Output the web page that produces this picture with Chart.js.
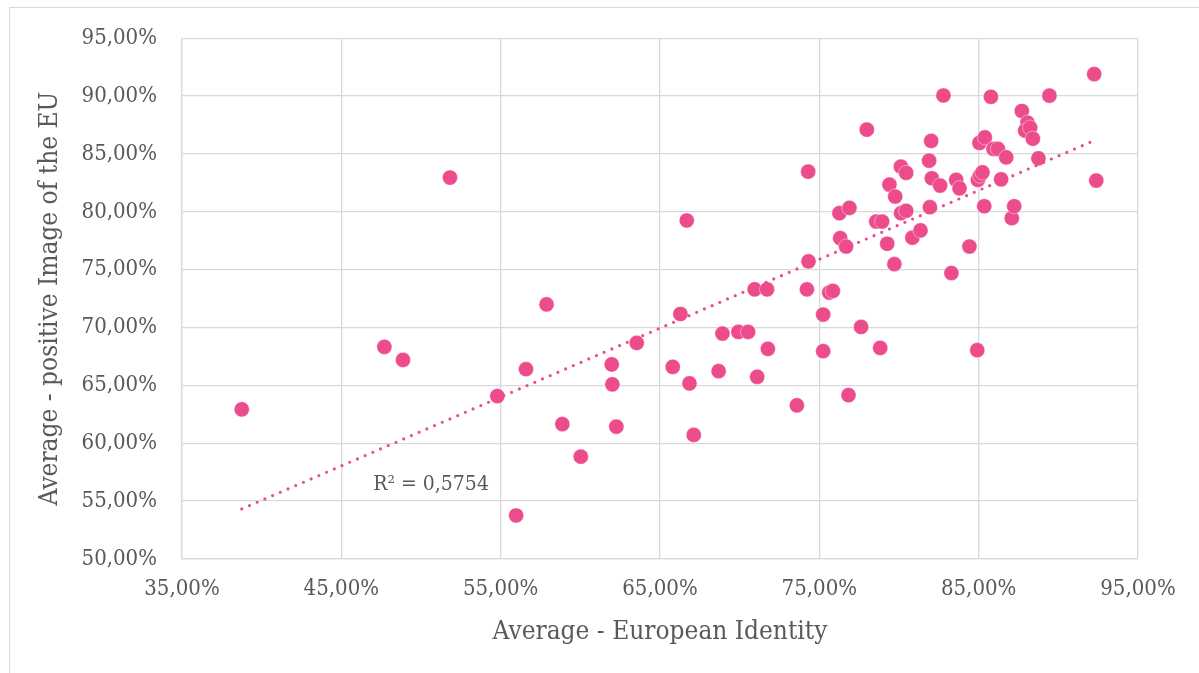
<!DOCTYPE html>
<html>
<head>
<meta charset="utf-8">
<script src="https://cdn.jsdelivr.net/npm/chart.js@4.4.0/dist/chart.umd.min.js"></script>
<style>
  html, body { margin: 0; padding: 0; background: #fff; }
  #wrap { position: relative; width: 1199px; height: 673px; overflow: hidden; }
  #frame { position: absolute; left: 9px; top: 7px; width: 1300px; height: 800px; border: 1.5px solid #d9d9d9; box-sizing: border-box; }
  #myChart { position: absolute; left: 0; top: 0; }
</style>
</head>
<body>
<div id="wrap">
  <div id="frame"></div>
  <canvas id="myChart" width="1199" height="673"></canvas>
</div>
<script>
// Average - European Identity (%), one entry per case
const identidade = [
  38.75, 47.70, 48.87, 51.82, 54.79, 55.97, 56.59, 57.88, 58.87, 60.03,
  61.97, 62.01, 62.26, 63.54, 65.80, 66.28, 66.68, 66.85, 67.12, 68.68,
  68.92, 69.92, 70.53, 70.94, 71.72, 71.77, 71.10, 73.59, 74.30, 74.32,
  74.22, 75.24, 75.24, 75.62, 75.85, 76.26, 76.31, 76.68, 76.89, 76.83,
  77.62, 77.98, 78.57, 78.94, 78.82, 79.40, 79.26, 79.76, 79.71, 80.12,
  80.45, 80.13, 80.45, 80.84, 81.35, 82.02, 81.89, 82.06, 81.94, 82.58,
  82.79, 83.29, 83.59, 83.80, 84.42, 84.91, 85.05, 85.39, 84.95, 85.09,
  85.24, 86.41, 85.35, 85.77, 85.93, 86.21, 86.73, 87.08, 87.23, 87.71,
  88.06, 87.92, 88.23, 88.40, 88.75, 89.44, 92.25, 92.38
];

// Average - positive Image of the EU (%), same order
const imagemUE = [
  62.93, 68.33, 67.20, 82.96, 64.08, 53.76, 66.40, 72.00, 61.66, 58.84,
  66.81, 65.09, 61.43, 68.67, 66.60, 71.17, 79.25, 65.17, 60.72, 66.23,
  69.48, 69.62, 69.62, 73.30, 73.30, 68.16, 65.74, 63.28, 83.47, 75.72,
  73.30, 71.12, 67.96, 73.02, 73.16, 79.88, 77.72, 77.00, 80.34, 64.16,
  70.05, 87.10, 79.16, 79.16, 68.24, 82.35, 77.24, 81.32, 75.48, 83.90,
  83.36, 79.88, 80.09, 77.76, 78.39, 86.12, 84.42, 82.90, 80.40, 82.27,
  90.05, 74.71, 82.76, 82.03, 77.00, 68.04, 85.95, 86.43, 82.76, 83.13,
  83.41, 82.81, 80.48, 89.94, 85.43, 85.43, 84.71, 79.45, 80.48, 88.71,
  87.70, 87.01, 87.27, 86.32, 84.62, 90.03, 91.90, 82.70
];

const ticksX = [35, 45, 55, 65, 75, 85, 95];
const ticksY = [50, 55, 60, 65, 70, 75, 80, 85, 90, 95];
const textoR2 = 'R² = 0,5754';

const rosa = '#EC4C8C';
const cinzaTexto = '#595959';
const cinzaGrade = '#d9d9d9';
const fonte = '"DejaVu Serif Condensed", "Liberation Serif", serif';

const pontos = identidade.map((x, i) => ({ x: x, y: imagemUE[i] }));

// linha de tendência linear (mínimos quadrados)
function tendencia(xs, ys) {
  const n = xs.length;
  const mx = xs.reduce((a, b) => a + b, 0) / n;
  const my = ys.reduce((a, b) => a + b, 0) / n;
  let sxy = 0, sxx = 0;
  for (let i = 0; i < n; i++) {
    sxy += (xs[i] - mx) * (ys[i] - my);
    sxx += (xs[i] - mx) * (xs[i] - mx);
  }
  const b = sxy / sxx;
  const a = my - b * mx;
  const xmin = Math.min(...xs), xmax = Math.max(...xs);
  return [{ x: xmin, y: a + b * xmin }, { x: xmax, y: a + b * xmax }];
}

function formatarPct(v) {
  return v.toFixed(2).replace('.', ',') + '%';
}

const rotuloR2 = {
  id: 'rotuloR2',
  afterDatasetsDraw(chart) {
    const { ctx, scales } = chart;
    ctx.save();
    ctx.font = '21px ' + fonte;
    ctx.fillStyle = cinzaTexto;
    ctx.textAlign = 'left';
    ctx.textBaseline = 'alphabetic';
    ctx.fillText(textoR2, scales.x.getPixelForValue(47.0), scales.y.getPixelForValue(55.97));
    ctx.restore();
  }
};

const ctx = document.getElementById('myChart').getContext('2d');
new Chart(ctx, {
  type: 'scatter',
  data: {
    datasets: [
      {
        label: 'Tendência',
        data: tendencia(identidade, imagemUE),
        showLine: true,
        borderColor: rosa,
        borderWidth: 3.2,
        borderDash: [0, 8.4],
        borderCapStyle: 'round',
        pointRadius: 0,
        fill: false,
        order: 0
      },
      {
        label: 'Casos',
        data: pontos,
        backgroundColor: rosa,
        borderColor: 'rgba(255,255,255,0.7)',
        borderWidth: 0.6,
        pointRadius: 7.6,
        order: 1
      }
    ]
  },
  plugins: [rotuloR2],
  options: {
    responsive: false,
    animation: false,
    layout: { padding: { left: 30, top: 37, right: 61, bottom: 0 } },
    plugins: { legend: { display: false }, tooltip: { enabled: false } },
    scales: {
      x: {
        type: 'linear',
        min: 35, max: 95,
        afterBuildTicks: s => { s.ticks = ticksX.map(v => ({ value: v })); },
        afterFit: s => { s.height = 114; },
        grid: { color: cinzaGrade, lineWidth: 1.3, drawTicks: false },
        border: { color: cinzaGrade, width: 1.3 },
        ticks: {
          padding: 17,
          color: cinzaTexto,
          font: { family: fonte, size: 22 },
          callback: v => formatarPct(v)
        },
        title: {
          display: true,
          text: 'Average - European Identity',
          color: cinzaTexto,
          font: { family: fonte, size: 26 },
          padding: { top: 0, bottom: 25 }
        }
      },
      y: {
        type: 'linear',
        min: 50, max: 95,
        afterBuildTicks: s => { s.ticks = ticksY.map(v => ({ value: v })); },
        afterFit: s => { s.width = 152; },
        grid: { color: cinzaGrade, lineWidth: 1.3, drawTicks: false },
        border: { color: cinzaGrade, width: 1.3 },
        ticks: {
          padding: 25,
          color: cinzaTexto,
          font: { family: fonte, size: 22 },
          callback: v => formatarPct(v)
        },
        title: {
          display: true,
          text: 'Average - positive Image of the EU',
          color: cinzaTexto,
          font: { family: fonte, size: 26 },
          padding: { top: 5, bottom: 0 }
        }
      }
    }
  }
});
</script>
</body>
</html>
